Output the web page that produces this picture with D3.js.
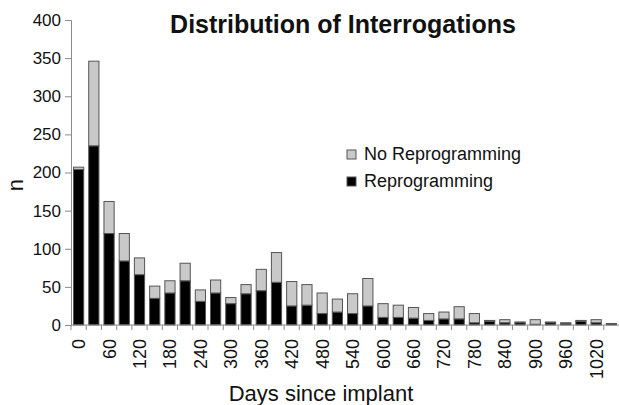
<!DOCTYPE html>
<html>
<head>
<meta charset="utf-8">
<script src="https://cdn.jsdelivr.net/npm/d3@7"></script>
<style>
  body { margin: 0; background: #fff; }
  text { font-family: "Liberation Sans", Arial, sans-serif; }
</style>
</head>
<body>
<div id="chartContainer"></div>
<script>
// Chart data
var days = [0, 30, 60, 90, 120, 150, 180, 210, 240, 270, 300, 330, 360, 390, 420, 450, 480, 510,
            540, 570, 600, 630, 660, 690, 720, 750, 780, 810, 840, 870, 900, 930, 960, 990, 1020, 1050];
var reprogramming = [204, 235, 120, 84, 66, 35, 42, 58, 31, 42, 28, 41, 45, 56, 25, 26, 15, 17,
                     15, 25, 10, 10, 9, 6, 8, 8, 3, 5, 3, 3, 1, 3, 2, 5, 3, 2];
var noReprogramming = [3, 111, 42, 36, 22, 16, 16, 23, 15, 17, 8, 12, 28, 39, 32, 27, 27, 17,
                       26, 36, 18, 16, 14, 9, 9, 16, 12, 1, 4, 1, 6, 1, 1, 1, 4, 0];
var yTicks = [0, 50, 100, 150, 200, 250, 300, 350, 400];
var seriesNames = ['No Reprogramming', 'Reprogramming'];

// Layout constants (note: "top" is a reserved global in browsers)
var width = 619,
    height = 405,
    plotLeft = 71,
    plotRight = 619,
    plotTop = 20,
    plotBottom = 325,
    axisColor = '#8a8a8a',
    barStroke = '#555',
    colors = { 'Reprogramming': '#000', 'No Reprogramming': '#c9c9c9' };

var svg = d3.select('#chartContainer').append('svg')
            .attr('width', width)
            .attr('height', height);

var x = d3.scaleBand()
          .domain(days)
          .range([plotLeft, plotRight])
          .paddingInner(0.33)
          .paddingOuter(0.165);

var y = d3.scaleLinear()
          .domain([0, 400])
          .range([plotBottom, plotTop]);

// Stacked data
var rows = days.map(function(d, i) {
  return { day: d, 'Reprogramming': reprogramming[i], 'No Reprogramming': noReprogramming[i] };
});
var stack = d3.stack().keys(['Reprogramming', 'No Reprogramming']);
var layers = stack(rows);

svg.append('g')
   .selectAll('g')
   .data(layers)
   .enter().append('g')
   .attr('fill', function(d) { return colors[d.key]; })
   .selectAll('rect')
   .data(function(d) { return d; })
   .enter().append('rect')
   .attr('x', function(d) { return x(d.data.day); })
   .attr('width', x.bandwidth())
   .attr('y', function(d) { return y(d[1]); })
   .attr('height', function(d) { return Math.max(0, y(d[0]) - y(d[1])); })
   .attr('stroke', barStroke)
   .attr('stroke-width', 1);

// Y axis
var yAxis = svg.append('g')
               .attr('transform', 'translate(' + plotLeft + ',0)')
               .call(d3.axisLeft(y).tickValues(yTicks).tickSize(6).tickPadding(4));
yAxis.select('.domain').attr('stroke', axisColor);
yAxis.selectAll('.tick line').attr('stroke', axisColor);
yAxis.selectAll('.tick text')
     .attr('font-size', '17px')
     .attr('fill', '#111')
     .attr('font-family', '"Liberation Sans", Arial, sans-serif');

// X axis: ticks between categories, labels on every other category
var xAxis = svg.append('g')
               .attr('transform', 'translate(0,' + plotBottom + ')');
xAxis.append('line')
     .attr('x1', plotLeft)
     .attr('x2', plotRight)
     .attr('stroke', axisColor);
var step = x.step();
xAxis.selectAll('.sep')
     .data(days)
     .enter().append('line')
     .attr('class', 'sep')
     .attr('x1', function(d) { return x(d) - (step - x.bandwidth()) / 2; })
     .attr('x2', function(d) { return x(d) - (step - x.bandwidth()) / 2; })
     .attr('y2', 5)
     .attr('stroke', axisColor);
xAxis.selectAll('.lbl')
     .data(days.filter(function(d, i) { return i % 2 === 0 && d <= 1020; }))
     .enter().append('text')
     .attr('class', 'lbl')
     .attr('transform', function(d) {
       return 'translate(' + (x(d) + x.bandwidth() / 2 + 6.5) + ',14) rotate(-90)';
     })
     .attr('text-anchor', 'end')
     .attr('font-size', '18px')
     .attr('fill', '#111')
     .text(function(d) { return d; });

// Titles
svg.append('text')
   .attr('x', 343)
   .attr('y', 33)
   .attr('text-anchor', 'middle')
   .attr('font-size', '25px')
   .attr('font-weight', 'bold')
   .attr('fill', '#111')
   .text('Distribution of Interrogations');

svg.append('text')
   .attr('x', 321)
   .attr('y', 401)
   .attr('text-anchor', 'middle')
   .attr('font-size', '22px')
   .attr('fill', '#111')
   .text('Days since implant');

svg.append('text')
   .attr('transform', 'translate(23,185) rotate(-90)')
   .attr('text-anchor', 'middle')
   .attr('font-size', '22px')
   .attr('fill', '#111')
   .text('n');

// Legend
var legend = svg.append('g')
                .selectAll('g')
                .data(seriesNames)
                .enter().append('g')
                .attr('transform', function(d, i) { return 'translate(347,' + (150 + i * 27) + ')'; });
legend.append('rect')
      .attr('width', 9)
      .attr('height', 9)
      .attr('fill', function(d) { return colors[d]; })
      .attr('stroke', barStroke);
legend.append('text')
      .attr('x', 17)
      .attr('y', 10)
      .attr('font-size', '18px')
      .attr('fill', '#111')
      .text(function(d) { return d; });
</script>
</body>
</html>
